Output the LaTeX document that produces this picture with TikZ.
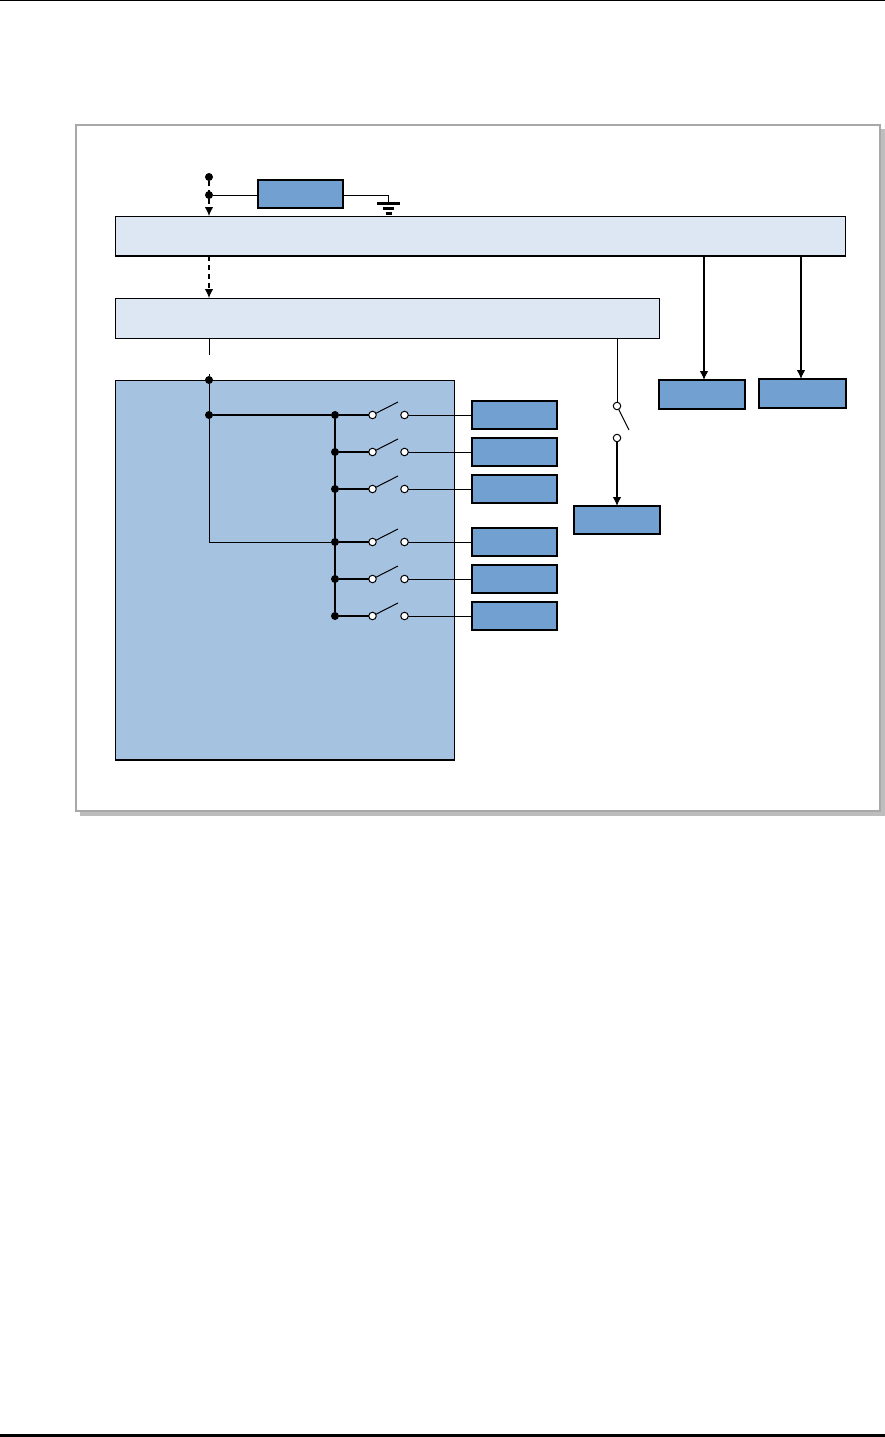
\documentclass[tikz,border=0pt]{standalone}
\usepackage{xcolor}
\usetikzlibrary{arrows.meta}
\definecolor{unitblue}{HTML}{72A1D1}
\definecolor{coreblue}{HTML}{A5C2E1}
\definecolor{busblue}{HTML}{DCE7F3}
\definecolor{framegray}{HTML}{A8A8A8}
\definecolor{shadowgray}{HTML}{BDBDBD}

\begin{document}
\begin{tikzpicture}[
  x=1pt, y=-1pt,
  every node/.style={inner sep=0pt, outer sep=0pt},
  unit/.style={draw, line width=1.7pt, fill=unitblue, minimum width=85pt, minimum height=28pt},
  bus/.style={draw, line width=0.9pt, fill=busblue, minimum height=40pt},
  dot/.style={circle, fill=black, minimum size=8pt},
  pin/.style={circle, draw, line width=1pt, fill=white, minimum size=7.5pt},
  wire/.style={line width=1pt},
  arr/.style={-{Latex[length=9pt, width=8.5pt]}, line width=1.1pt},
]
  \useasboundingbox (0,0) rectangle (885,1437);

  % Page rules
  \coordinate (rulea) at (0,0.5);
  \coordinate (ruleb) at (885,0.5);
  \coordinate (rulec) at (0,1435.5);
  \coordinate (ruled) at (885,1435.5);
  \draw[line width=1pt] (rulea) -- (ruleb);
  \draw[line width=3pt] (rulec) -- (ruled);

  % Outer frame with its shadow
  \node[fill=shadowgray, minimum width=805pt, minimum height=687pt] (shadow) at (482,472) {};
  \node[draw=framegray, line width=1.3pt, fill=white, minimum width=804pt, minimum height=686pt] (frame) at (478,468) {};

  % Buses and core
  \node[bus, minimum width=730pt] (bus1) at (480.5,236) {};
  \node[bus, minimum width=544pt] (bus2) at (387.5,318) {};
  \node[draw, line width=0.9pt, fill=coreblue, minimum width=339pt, minimum height=380pt] (core) at (285,570) {};
  \draw[line width=1.8pt] (bus1.south west) -- (bus1.south east);
  \draw[line width=1.8pt] (core.south west) -- (core.south east);

  % Supply input and resistor to ground
  \node[unit] (res) at (300.5,194) {};
  \node[dot] (top) at (209,177) {};
  \node[dot] (tap) at (209,195) {};
  \coordinate (gnd) at (388.5,203);
  \draw[arr, dashed, dash pattern=on 5pt off 4pt] (top) -- (top |- bus1.north);
  \draw[wire] (tap) -- (tap -| res.west);
  \draw[wire] (tap -| res.east) -| (gnd);
  \draw[line width=3pt] ([xshift=-11.5pt]gnd) -- ([xshift=11.5pt]gnd);
  \draw[line width=3pt] ([xshift=-5.5pt,yshift=-5pt]gnd) -- ([xshift=5.5pt,yshift=-5pt]gnd);
  \draw[line width=3pt] ([xshift=-3pt,yshift=-10pt]gnd) -- ([xshift=3pt,yshift=-10pt]gnd);

  % Path down through the buses
  \node[dot] (hub) at (209,380) {};
  \node[dot] (hubA) at (209,415) {};
  \draw[arr, dashed, dash pattern=on 5pt off 4pt] (top |- bus1.south) -- (top |- bus2.north);
  \draw[wire, dash pattern=on 17pt off 19pt on 200pt] (top |- bus2.south) -- (hub);
  \draw[wire] (hub) -- (hubA);

  % Six switched outputs
  \foreach \i/\y in {1/415, 2/452, 3/489, 4/542, 5/579, 6/616} {
    \node[dot] (j\i) at (335,\y) {};
    \node[pin] (a\i) at (372.5,\y) {};
    \node[pin] (b\i) at (404.5,\y) {};
    \coordinate (tip\i) at (398,\y-13);
    \node[unit] (out\i) at (514.5,\y) {};
    \draw[line width=1.2pt] (j\i) -- (a\i);
    \draw[wire] (a\i) -- (tip\i);
    \draw[wire] (b\i) -- (out\i);
  }
  \draw[line width=1.4pt] (j1) -- (j6);
  \draw[line width=1.2pt] (hubA) -- (j1);
  \draw[wire] (hubA) |- (j4);

  % Switch below the second bus
  \node[pin] (swa) at (617,406) {};
  \node[pin] (swb) at (617,438) {};
  \coordinate (swtip) at (629,430);
  \node[unit, minimum width=86pt] (outC) at (617,520) {};
  \draw[wire] (swa |- bus2.south) -- (swa);
  \draw[wire] (swa) -- (swtip);
  \draw[arr] (swb) -- (outC);

  % Two outputs of the first bus
  \node[unit, minimum width=86pt, minimum height=29pt] (outA) at (702,394.5) {};
  \node[unit, minimum width=87pt, minimum height=29pt] (outB) at (802.5,393.5) {};
  \coordinate (tapA) at (704,256);
  \coordinate (tapB) at (801,256);
  \draw[arr] (tapA) -- (tapA |- outA.north);
  \draw[arr] (tapB) -- (tapB |- outB.north);
\end{tikzpicture}
\end{document}
